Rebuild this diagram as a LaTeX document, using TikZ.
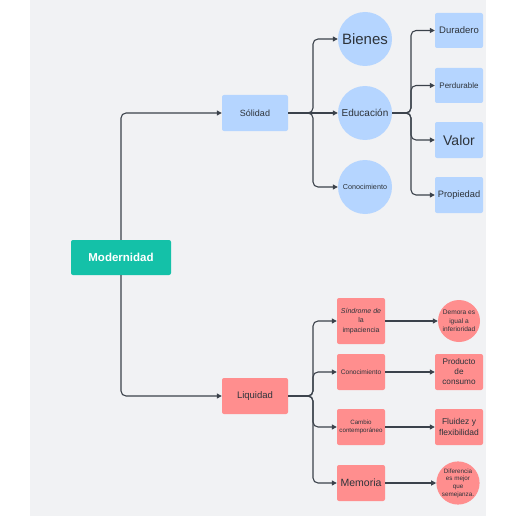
\documentclass[tikz,border=0pt]{standalone}
\usepackage{fontspec}
\setmainfont{Liberation Sans}
\usetikzlibrary{arrows.meta}
\definecolor{bgc}{HTML}{F1F2F4}
\definecolor{blu}{HTML}{B5D5FF}
\definecolor{redc}{HTML}{FF8E8E}
\definecolor{tealc}{HTML}{14C1A8}
\definecolor{lnc}{HTML}{3B424B}
\definecolor{txtc}{HTML}{2D333A}
\newcommand{\fs}[1]{\fontsize{#1}{1.3*#1}\selectfont}
\newcommand{\fsz}[2]{\fontsize{#1}{#2}\selectfont}
\tikzset{
  base/.style={text=txtc, align=center, inner sep=0pt},
  bbox/.style={base, fill=blu, rounded corners=2pt, minimum width=48pt, minimum height=35pt},
  rbox/.style={base, fill=redc, rounded corners=2pt, minimum width=48pt, minimum height=36pt},
  bcirc/.style={base, fill=blu, circle, minimum size=54pt},
  rcirc/.style={base, fill=redc, circle, minimum size=42pt},
  mainbox/.style={fill=tealc, rounded corners=2pt, minimum width=100pt, minimum height=35pt, text=white, font=\bfseries\fsz{11.5}{13}},
  conn/.style={draw=lnc, line width=1.1pt, rounded corners=5pt, -{Triangle[length=5pt,width=5pt]}},
}
\begin{document}
\begin{tikzpicture}[x=1pt,y=-1pt]
\useasboundingbox (0,0) rectangle (516,516);
\fill[white] (0,0) rectangle (516,516);
\fill[bgc] (30,0) rectangle (486,516);

\node[mainbox] (mod) at (121,257.5) {Modernidad};
\node[bbox, minimum width=66pt, minimum height=36pt, font=\fsz{9}{11}] (sol) at (255,113) {Sólidad};
\node[rbox, minimum width=66pt, minimum height=36pt, font=\fsz{9.5}{11}] (liq) at (255,396) {Liquidad};

\node[bcirc, font=\fsz{15}{17}] (bien) at (365,39) {Bienes};
\node[bcirc, font=\fsz{10}{12}] (edu) at (365,113) {Educación};
\node[bcirc, font=\fsz{7.2}{9}] (con) at (365,187) {Conocimiento};

\node[bbox, font=\fsz{9.5}{11}] (dur) at (459,30.5) {Duradero};
\node[bbox, font=\fsz{8}{10}] (per) at (459,85.5) {Perdurable};
\node[bbox, minimum height=36pt, font=\fsz{14}{16}] (val) at (459,140) {Valor};
\node[bbox, minimum height=36pt, font=\fsz{9.3}{11}] (pro) at (459,195) {Propiedad};

\node[rbox, minimum height=46pt, font=\fsz{7}{9.5}] (sin) at (361,321) {\textit{Síndrome de}\\la\\impaciencia};
\node[rbox, font=\fsz{6.6}{8}] (con2) at (361,372) {Conocimiento};
\node[rbox, font=\fsz{6.2}{8}] (cam) at (361,427) {Cambio\\contemporáneo};
\node[rbox, font=\fsz{10.5}{12}] (mem) at (361,483) {Memoria};

\node[rcirc, font=\fsz{6.6}{8.5}] (dem) at (459,321) {Demora es\\igual a\\inferioridad};
\node[rbox, font=\fsz{8.2}{10}] (prod) at (459,372) {Producto\\de\\consumo};
\node[rbox, font=\fsz{8.5}{10.5}] (flu) at (459,427) {Fluidez y\\flexibilidad};
\node[rcirc, font=\fsz{6.3}{7.6}] (dif) at (458,483) {Diferencia\\es mejor\\que\\semejanza.};

\coordinate (ts) at (313,113);
\coordinate (te) at (411,113);
\coordinate (tl) at (313,396);

\draw[conn] (mod.north) |- (sol.west);
\draw[conn] (mod.south) |- (liq.west);

\draw[conn] (sol.east) -- (ts) |- (bien.west);
\draw[conn] (sol.east) -- (edu.west);
\draw[conn] (sol.east) -- (ts) |- (con.west);

\draw[conn] (edu.east) -- (te) |- (dur.west);
\draw[conn] (edu.east) -- (te) |- (per.west);
\draw[conn] (edu.east) -- (te) |- (val.west);
\draw[conn] (edu.east) -- (te) |- (pro.west);

\draw[conn] (liq.east) -- (tl) |- (sin.west);
\draw[conn] (liq.east) -- (tl) |- (con2.west);
\draw[conn] (liq.east) -- (tl) |- (cam.west);
\draw[conn] (liq.east) -- (tl) |- (mem.west);

\draw[conn] (sin) -- (dem);
\draw[conn] (con2) -- (prod);
\draw[conn] (cam) -- (flu);
\draw[conn] (mem) -- (dif);
\end{tikzpicture}
\end{document}
